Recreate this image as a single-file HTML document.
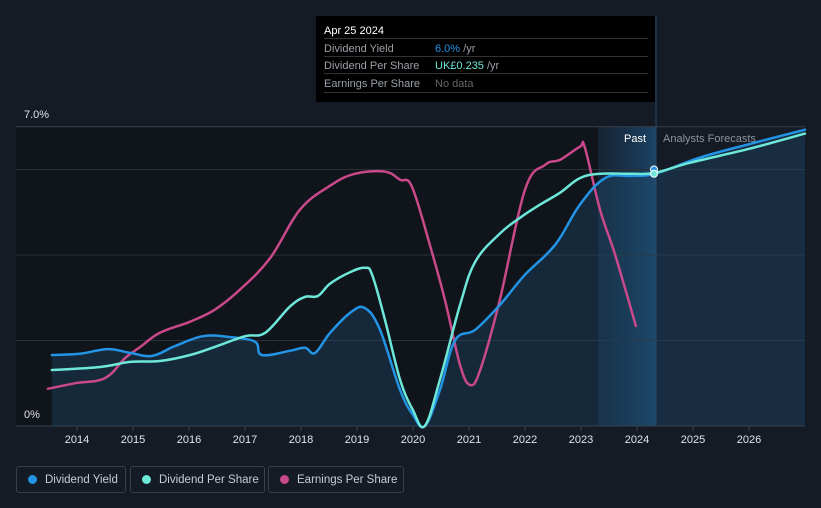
<!DOCTYPE html>
<html><head><meta charset="utf-8"><style>
body{margin:0;background:#151b25;font-family:"Liberation Sans",sans-serif;}
#wrap{position:relative;width:821px;height:508px;overflow:hidden;background:#151b25;}
.tt{position:absolute;left:316px;top:16px;width:339px;height:86px;background:#000;}
.tt div{position:absolute;left:8px;font-size:11px;color:#9aa0a8;}
.sep{position:absolute;left:8px;right:7px;height:1px;background:#333;}
.leg{position:absolute;top:466px;height:27px;border:1px solid #3a3f48;border-radius:3px;color:#c8ccd2;font-size:11.5px;line-height:27px;box-sizing:border-box;}
.leg span{display:inline-block;width:9px;height:9px;border-radius:50%;margin:0 8px 0 11px;vertical-align:-1px;}
</style></head><body>
<div id="wrap">
<svg id="chart" width="821" height="508" style="position:absolute;left:0;top:0">
<defs>
<linearGradient id="fg" x1="0" x2="1" y1="0" y2="0"><stop offset="0" stop-color="#17324a" stop-opacity="0.4"/><stop offset="1" stop-color="#1c4a6e" stop-opacity="0.9"/></linearGradient>
</defs>
<rect x="16" y="127" width="582" height="299" fill="#10141b"/>
<rect x="598" y="127" width="58" height="299" fill="url(#fg)"/>
<line x1="656" y1="16" x2="656" y2="426" stroke="#2a4a66" stroke-width="1"/>
<g id="grid"></g>
<g id="area"></g>
<g id="lines"></g>
<g id="xt"></g>
<text x="24" y="118" fill="#e0e3e8" font-size="11">7.0%</text>
<text x="24" y="418" fill="#e0e3e8" font-size="11">0%</text>
<text x="624" y="142" fill="#ffffff" font-size="11">Past</text>
<text x="663" y="142" fill="#8d939c" font-size="11">Analysts Forecasts</text>
</svg>
<div class="tt">
<div style="top:9px;color:#fff;font-size:11px">Apr 25 2024</div>
<div class="sep" style="top:22px"></div>
<div style="top:27px">Dividend Yield</div>
<div style="top:27px;left:119px"><b style="font-weight:normal;color:#2394e5">6.0%</b> /yr</div>
<div class="sep" style="top:40px"></div>
<div style="top:44px">Dividend Per Share</div>
<div style="top:44px;left:119px"><b style="font-weight:normal;color:#6de7d8">UK£0.235</b> /yr</div>
<div class="sep" style="top:57px"></div>
<div style="top:62px">Earnings Per Share</div>
<div style="top:62px;left:119px;color:#666">No data</div>
<div class="sep" style="top:76px"></div>
</div>
<div class="leg" style="left:16px;width:110px"><span style="background:#2394e5"></span>Dividend Yield</div>
<div class="leg" style="left:130px;width:135px"><span style="background:#6de7d8"></span>Dividend Per Share</div>
<div class="leg" style="left:268px;width:136px"><span style="background:#c9498a"></span>Earnings Per Share</div>
</div>
<script>
const xTicks=[2014,2015,2016,2017,2018,2019,2020,2021,2022,2023,2024,2025,2026];
const gridVals=[2,4,6,7];
const yieldYears=[2013.55,2014.05,2014.55,2014.95,2015.34,2015.75,2016.25,2016.73,2017.18,2017.30,2017.80,2018.07,2018.25,2018.52,2018.88,2019.14,2019.41,2019.77,2020.0,2020.21,2020.48,2020.75,2021.11,2021.55,2022.0,2022.54,2022.98,2023.43,2023.88,2024.32,2025.13,2026.02,2027.0];
const yieldVals=[1.66,1.69,1.8,1.71,1.64,1.87,2.1,2.08,1.97,1.66,1.76,1.83,1.71,2.18,2.65,2.76,2.25,0.84,0.26,0,0.84,2.0,2.25,2.83,3.54,4.24,5.18,5.8,5.85,5.9,6.28,6.6,6.93];
const dpsYears=[2013.55,2014.41,2014.95,2015.48,2016.02,2016.46,2017.0,2017.36,2017.80,2018.07,2018.30,2018.52,2018.88,2019.14,2019.27,2019.50,2019.77,2020.0,2020.21,2020.48,2020.84,2021.11,2021.55,2021.91,2022.27,2022.63,2022.98,2023.34,2023.88,2024.32,2024.95,2026.02,2027.0];
const dpsVals=[1.31,1.38,1.5,1.52,1.66,1.85,2.1,2.18,2.79,3.02,3.04,3.33,3.6,3.7,3.54,2.48,1.08,0.37,0,1.08,2.83,3.84,4.5,4.87,5.18,5.46,5.8,5.9,5.9,5.92,6.16,6.49,6.84];
const epsYears=[2013.48,2013.96,2014.5,2014.86,2015.13,2015.48,2016.02,2016.46,2016.91,2017.45,2017.98,2018.52,2018.96,2019.5,2019.77,2019.98,2020.30,2020.57,2020.84,2021.02,2021.20,2021.55,2022.0,2022.36,2022.63,2022.98,2023.07,2023.34,2023.61,2023.98];
const epsVals=[0.87,1.0,1.12,1.59,1.85,2.18,2.44,2.72,3.19,3.93,5.06,5.62,5.9,5.95,5.76,5.6,4.24,2.95,1.43,0.96,1.31,2.95,5.53,6.11,6.23,6.53,6.51,5.06,4.0,2.34];
const X=y=>77+(y-2014)*56, Y=v=>426-v*42.75;
const NS='http://www.w3.org/2000/svg';
function mk(tag,attrs,parent){const e=document.createElementNS(NS,tag);for(const k in attrs)e.setAttribute(k,attrs[k]);document.getElementById(parent).appendChild(e);return e;}
gridVals.forEach(v=>{const l=mk('line',{x1:16,x2:805,y1:Y(v),y2:Y(v),stroke:v==7?'#3a404a':'#2a303a','stroke-width':1},'grid');

});
const ax=mk('line',{x1:16,x2:805,y1:426,y2:426,stroke:'#3a404a','stroke-width':1},'grid');


xTicks.forEach(t=>{const tk=mk('line',{x1:X(t),x2:X(t),y1:426,y2:431,stroke:'#3a404a'},'xt');


const tx=mk('text',{x:X(t),y:443,'text-anchor':'middle',fill:'#e0e3e8','font-size':11},'xt');tx.textContent=t;

});
function smooth(xs,vs){const p=xs.map((x,i)=>[X(x),Y(vs[i])]);let d='M'+p[0][0].toFixed(1)+','+p[0][1].toFixed(1);
for(let i=0;i<p.length-1;i++){const p0=p[Math.max(0,i-1)],p1=p[i],p2=p[i+1],p3=p[Math.min(p.length-1,i+2)];const t=0.18;
const c1=[p1[0]+(p2[0]-p0[0])*t,p1[1]+(p2[1]-p0[1])*t],c2=[p2[0]-(p3[0]-p1[0])*t,p2[1]-(p3[1]-p1[1])*t];
d+=' C'+c1.map(n=>n.toFixed(1))+' '+c2.map(n=>n.toFixed(1))+' '+p2.map(n=>n.toFixed(1));}
return d;}
const yd=smooth(yieldYears,yieldVals);
const ar=mk('path',{d:yd+' L'+X(yieldYears[yieldYears.length-1])+',426 L'+X(yieldYears[0])+',426 Z',fill:'#1f4f75','fill-opacity':0.35},'area');


[[epsYears,epsVals,'#c9498a','eps-line'],[yieldYears,yieldVals,'#2394e5','dividend-yield-line'],[dpsYears,dpsVals,'#6de7d8','dividend-per-share-line']].forEach(s=>{
const p=mk('path',{d:smooth(s[0],s[1]),fill:'none',stroke:s[2],'stroke-width':2.5,'stroke-linejoin':'round','stroke-linecap':'round'},'lines');

});
const d1=mk('circle',{cx:654,cy:Y(6.0),r:3.5,fill:'#2394e5',stroke:'#fff','stroke-width':1},'lines');


const d2=mk('circle',{cx:654,cy:Y(5.9),r:3.5,fill:'#6de7d8',stroke:'#fff','stroke-width':1},'lines');


</script>
</body></html>
